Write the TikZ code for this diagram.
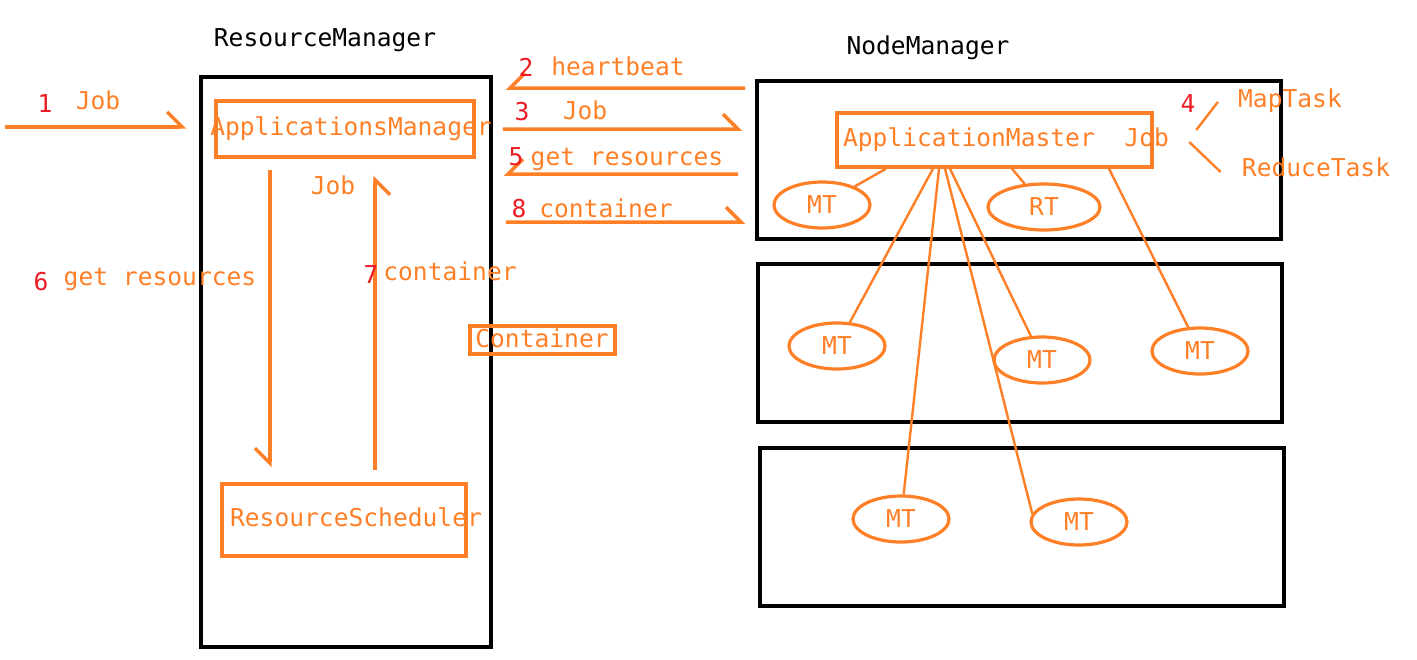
\documentclass[tikz,border=0pt]{standalone}
\usepackage{fontspec}
\setmonofont{DejaVu Sans Mono}
\usetikzlibrary{arrows.meta,shapes.geometric,calc}
\definecolor{paintorange}{RGB}{255,127,39}
\definecolor{paintred}{RGB}{237,28,36}

\begin{document}
\begin{tikzpicture}[
    x=0.25mm, y=-0.25mm,
    every node/.style={font=\fontsize{17.5}{20}\selectfont\ttfamily},
    blackbox/.style={draw=black, line width=0.95mm, inner sep=0pt},
    orangebox/.style={draw=paintorange, line width=0.85mm, inner sep=0pt},
    txt/.style={text=paintorange, inner sep=0pt, text height=1.4em, text depth=0.2em},
    num/.style={text=paintred, inner sep=0pt, text height=1.4em, text depth=0.2em},
    title/.style={text=black, inner sep=0pt, text height=1.4em, text depth=0.2em},
    task/.style={ellipse, draw=paintorange, line width=0.8mm, inner sep=0pt, text=paintorange, minimum height=11.5mm},
    msg/.style={paintorange, line width=0.85mm, -{Straight Barb[left, length=3.75mm, width=7.5mm]}},
    msgback/.style={paintorange, line width=0.85mm, -{Straight Barb[right, length=3.75mm, width=7.5mm]}},
    link/.style={paintorange, line width=0.6mm}
]
    \useasboundingbox (0,0) rectangle (1417,659);

    \node[title] (rmtitle) at (325,38) {ResourceManager};
    \node[title] (nmtitle) at (928,46) {NodeManager};

    \node[blackbox, minimum width=72.5mm, minimum height=142.5mm] (rm) at (346,362) {};
    \node[blackbox, minimum width=131mm, minimum height=39.5mm] (nma) at (1019,160) {};
    \node[blackbox, minimum width=131mm, minimum height=39.5mm] (nmb) at (1020,343) {};
    \node[blackbox, minimum width=131mm, minimum height=39.5mm] (nmc) at (1022,527) {};

    \node[orangebox, minimum width=64.5mm, minimum height=14mm] (apm) at (345,129) {};
    \node[txt] (apmtext) at (351,127) {ApplicationsManager};
    \node[orangebox, minimum width=61mm, minimum height=18mm] (rs) at (344,520) {};
    \node[txt] (rstext) at (356,518) {ResourceScheduler};
    \node[orangebox, minimum width=78.75mm, minimum height=13.5mm] (am) at (994.5,140) {};
    \node[txt] (amtext) at (1006,138) {ApplicationMaster\ \ Job};
    \node[orangebox, minimum width=36.25mm, minimum height=7mm] (ctr) at (542.5,340) {};
    \node[txt] (ctrtext) at (542,339) {Container};

    \foreach \n/\x/\y/\w/\t in {mta/822/205/24/MT, rt/1044/207/28/RT,
        mtb/837/346/24/MT, mtc/1042/360/24/MT, mtd/1200/351/24/MT,
        mte/901/519/24/MT, mtf/1079/522/24/MT}
        \node[task, minimum width=\w mm] (\n) at (\x,\y) {\t};

    \draw[link] ($(am.south)+(-108.5,0)$) -- (mta);
    \draw[link] ($(am.south)+(-61.5,0)$) -- (mtb);
    \draw[link] ($(am.south)+(-55.5,0)$) -- (mte);
    \draw[link] ($(am.south)+(-49.5,0)$) -- (mtf.170);
    \draw[link] ($(am.south)+(-44.5,0)$) -- (mtc.115);
    \draw[link] ($(am.south)+(17.5,0)$) -- (rt);
    \draw[link] ($(am.south)+(114.5,0)$) -- (mtd);

    \coordinate (client) at (5,127);
    \draw[msg] (client) -- ($(apm.west)+(-28,-2)$);
    \node[num] (n1) at (45,104) {1};
    \node[txt] (job1) at (98,101) {Job};

    \draw[msgback] ($(nma.north west)+(-10,9)$) -- ($(rm.north east)+(13,13)$);
    \node[num] (n2) at (526,68) {2};
    \node[txt] (heartbeat) at (618,67) {heartbeat};

    \draw[msg] ($(rm.north east)+(10,54)$) -- ($(nma.north west)+(-13,50)$);
    \node[num] (n3) at (522,112) {3};
    \node[txt] (job3) at (585,111) {Job};

    \draw[msgback] ($(nma.north west)+(-17,95)$) -- ($(rm.north east)+(11,99)$);
    \node[num] (n5) at (516,157) {5};
    \node[txt] (getres5) at (627,157) {get resources};

    \draw[msg] ($(rm.north east)+(13,147)$) -- ($(nma.north west)+(-10,143)$);
    \node[num] (n8) at (519,209) {8};
    \node[txt] (container8) at (606,209) {container};

    \draw[msgback] ($(apm.south)+(-75,11)$) -- ($(rs.north)+(-74,-15)$);
    \node[num] (n6) at (41,282) {6};
    \node[txt] (getres6) at (160,277) {get resources};

    \draw[msgback] ($(rs.north)+(31,-12)$) -- ($(apm.south)+(30,17)$);
    \node[num] (n7) at (371,275) {7};
    \node[txt] (container7) at (450,272) {container};
    \node[txt] (job7) at (333,186) {Job};

    \node[num] (n4) at (1188,104) {4};
    \node[txt] (maptask) at (1290,99) {MapTask};
    \node[txt] (reducetask) at (1316,168) {ReduceTask};
    \draw[link] ($(amtext.east)+(27,-8)$) -- ($(maptask.west)+(-20,3)$);
    \draw[link] ($(amtext.east)+(20,4)$) -- ($(reducetask.west)+(-21,4)$);
\end{tikzpicture}
\end{document}
